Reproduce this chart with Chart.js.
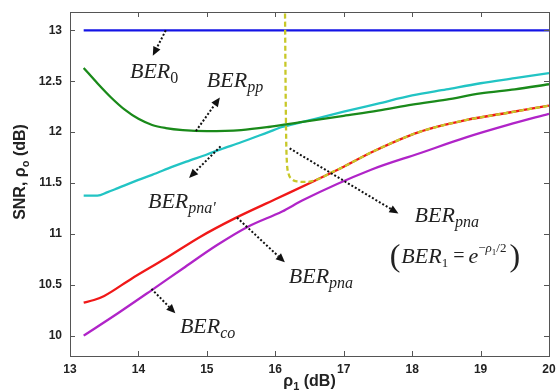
<!DOCTYPE html>
<html lang="en">
<head>
    <meta charset="UTF-8">
    <title>SNR vs rho1</title>
    <script src="https://cdn.jsdelivr.net/npm/chart.js"></script>
    <style>
        body { margin: 0; background: #fff; }
    </style>
</head>
<body>
    <canvas id="snrChart" width="556" height="390"></canvas>

    <script>
        // axis ticks
        const xTicks = [13, 14, 15, 16, 17, 18, 19, 20];
        const yTicks = [10, 10.5, 11, 11.5, 12, 12.5, 13];

        // BER_0
        const ber0X = [13.2, 20];
        const ber0Y = [13.0, 13.0];

        // BER_pp
        const berPpX = [13.2, 13.4, 13.6, 13.8, 14.0, 14.2, 14.4, 14.65, 15.0, 15.5, 15.9, 16.4, 17.0, 17.5, 18.0, 18.5, 19.0, 19.5, 20];
        const berPpY = [12.63, 12.48, 12.34, 12.22, 12.13, 12.07, 12.04, 12.02, 12.01, 12.02, 12.05, 12.10, 12.16, 12.21, 12.27, 12.32, 12.38, 12.42, 12.47];

        // BER_pna'
        const berPnaPX = [13.2, 13.4, 13.55, 13.7, 14.0, 14.2, 14.5, 14.7, 15.0, 15.2, 15.5, 15.9, 16.1, 16.4, 17.0, 17.5, 18.0, 18.5, 19.0, 19.5, 20];
        const berPnaPY = [11.375, 11.375, 11.41, 11.45, 11.53, 11.58, 11.66, 11.71, 11.78, 11.83, 11.90, 12.00, 12.05, 12.10, 12.20, 12.28, 12.36, 12.42, 12.48, 12.53, 12.58];

        // BER_pna (red)
        const berPnaX = [13.2, 13.35, 13.5, 13.9, 14.4, 14.9, 15.4, 16.0, 16.6, 17.0, 17.4, 18.1, 18.8, 19.4, 20];
        const berPnaY = [10.325, 10.35, 10.39, 10.56, 10.76, 10.97, 11.15, 11.34, 11.53, 11.66, 11.80, 12.00, 12.12, 12.19, 12.26];

        // BER_pna with BER_1 = e^(-rho1/2) (yellow dashed)
        const berPna1X = [16.14, 16.15, 16.16, 16.17, 16.19, 16.24, 16.32, 16.45, 16.6, 16.84, 17.0, 17.4, 18.1, 18.8, 19.4, 20];
        const berPna1Y = [13.4, 12.5, 11.9, 11.7, 11.6, 11.54, 11.515, 11.51, 11.53, 11.61, 11.66, 11.80, 12.00, 12.12, 12.19, 12.26];

        // BER_co
        const berCoX = [13.2, 13.7, 14.2, 14.65, 15.15, 15.6, 16.1, 16.4, 17.4, 18.1, 18.8, 19.4, 20];
        const berCoY = [10.0, 10.22, 10.45, 10.66, 10.89, 11.07, 11.22, 11.33, 11.63, 11.79, 11.95, 12.07, 12.18];

        // annotation arrows: [fromX, fromY, toX, toY] in data units
        const arrows = [
            [14.40, 13.0, 14.21, 12.75],
            [14.84, 12.01, 15.19, 12.34],
            [15.20, 11.86, 14.74, 11.55],
            [16.21, 11.84, 17.80, 11.20],
            [15.44, 11.16, 16.14, 10.72],
            [14.19, 10.46, 14.54, 10.22]
        ];

        // curve labels: [x, y, sub]
        const labels = [
            [13.876, 12.53, '0'],
            [15.00, 12.443, 'pp'],
            [14.139, 11.254, "pna'"],
            [18.036, 11.117, 'pna'],
            [16.197, 10.518, 'pna'],
            [14.606, 10.027, 'co']
        ];
        const formulaPos = [17.672, 10.714];

        const toPoints = (xs, ys) => xs.map((v, i) => ({ x: v, y: ys[i] }));

        const serif = '"Liberation Serif", "Times New Roman", serif';
        const sans = '"Liberation Sans", Arial, sans-serif';

        function drawArrow(ctx, x1, y1, x2, y2) {
            const ang = Math.atan2(y2 - y1, x2 - x1);
            const hl = 9, hw = 4;
            const bx = x2 - hl * Math.cos(ang), by = y2 - hl * Math.sin(ang);
            ctx.strokeStyle = '#111';
            ctx.fillStyle = '#111';
            ctx.lineWidth = 2;
            ctx.setLineDash([2, 2]);
            ctx.beginPath();
            ctx.moveTo(x1, y1);
            ctx.lineTo(bx, by);
            ctx.stroke();
            ctx.setLineDash([]);
            ctx.beginPath();
            ctx.moveTo(x2, y2);
            ctx.lineTo(bx + hw * Math.sin(ang), by - hw * Math.cos(ang));
            ctx.lineTo(bx - hw * Math.sin(ang), by + hw * Math.cos(ang));
            ctx.closePath();
            ctx.fill();
        }

        function drawBer(ctx, px, py, sub) {
            ctx.fillStyle = '#222';
            ctx.font = 'italic 22px ' + serif;
            ctx.fillText('BER', px, py);
            const w = ctx.measureText('BER').width;
            ctx.font = (/^\d$/.test(sub) ? '' : 'italic ') + '16px ' + serif;
            ctx.fillText(sub, px + w, py + 5);
        }

        function drawFormula(ctx, px, py) {
            let cx = px;
            ctx.fillStyle = '#222';
            const put = (txt, font, dy) => {
                ctx.font = font;
                ctx.fillText(txt, cx, py + dy);
                cx += ctx.measureText(txt).width;
            };
            put('(', '32px ' + serif, 3);
            cx += 1;
            put('BER', 'italic 22px ' + serif, 0);
            put('1', '13px ' + serif, 4);
            cx += 5;
            put('=', '20px ' + serif, -1);
            cx += 4;
            put('e', 'italic 22px ' + serif, 0);
            put('\u2212', '13px ' + serif, -11);
            put('\u03c1', 'italic 13px ' + serif, -11);
            put('1', '9px ' + serif, -8);
            put('/2', '13px ' + serif, -11);
            cx += 3;
            put(')', '32px ' + serif, 3);
        }

        const decor = {
            id: 'decor',
            afterDraw(chart) {
                const { ctx, chartArea: a, scales: { x, y } } = chart;
                ctx.save();

                // frame with inward ticks on all four sides
                ctx.strokeStyle = '#555';
                ctx.lineWidth = 1;
                ctx.strokeRect(a.left + 0.5, a.top + 0.5, a.right - a.left, a.bottom - a.top);
                ctx.beginPath();
                xTicks.forEach(v => {
                    const px = Math.round(x.getPixelForValue(v)) + 0.5;
                    ctx.moveTo(px, a.bottom); ctx.lineTo(px, a.bottom - 5);
                    ctx.moveTo(px, a.top); ctx.lineTo(px, a.top + 5);
                });
                yTicks.forEach(v => {
                    const py = Math.round(y.getPixelForValue(v)) + 0.5;
                    ctx.moveTo(a.left, py); ctx.lineTo(a.left + 5, py);
                    ctx.moveTo(a.right, py); ctx.lineTo(a.right - 5, py);
                });
                ctx.stroke();

                // arrows and labels
                arrows.forEach(r => drawArrow(ctx,
                    x.getPixelForValue(r[0]), y.getPixelForValue(r[1]),
                    x.getPixelForValue(r[2]), y.getPixelForValue(r[3])));
                labels.forEach(l => drawBer(ctx, x.getPixelForValue(l[0]), y.getPixelForValue(l[1]), l[2]));
                drawFormula(ctx, x.getPixelForValue(formulaPos[0]), y.getPixelForValue(formulaPos[1]));

                // axis titles
                ctx.fillStyle = '#222';
                ctx.textAlign = 'left';
                const xt = [['\u03c1', 'bold 16px ' + sans, 0], ['1', 'bold 11px ' + sans, 4], [' (dB)', 'bold 16px ' + sans, 0]];
                let tw = 0;
                xt.forEach(p => { ctx.font = p[1]; tw += ctx.measureText(p[0]).width; });
                let cx = (a.left + a.right) / 2 - tw / 2;
                xt.forEach(p => { ctx.font = p[1]; ctx.fillText(p[0], cx, 386 + p[2]); cx += ctx.measureText(p[0]).width; });

                ctx.translate(25, 172);
                ctx.rotate(-Math.PI / 2);
                const yt = [['SNR, \u03c1', 'bold 16px ' + sans, 0], ['o', 'bold 11px ' + sans, 4], [' (dB)', 'bold 16px ' + sans, 0]];
                tw = 0;
                yt.forEach(p => { ctx.font = p[1]; tw += ctx.measureText(p[0]).width; });
                cx = -tw / 2;
                yt.forEach(p => { ctx.font = p[1]; ctx.fillText(p[0], cx, p[2]); cx += ctx.measureText(p[0]).width; });

                ctx.restore();
            }
        };

        const line = (data, color, order, extra) => Object.assign({
            data: data,
            borderColor: color,
            borderWidth: 2.3,
            pointRadius: 0,
            fill: false,
            cubicInterpolationMode: 'monotone',
            order: order
        }, extra || {});

        const ctx = document.getElementById('snrChart').getContext('2d');
        new Chart(ctx, {
            type: 'line',
            data: {
                datasets: [
                    line(toPoints(ber0X, ber0Y), '#1414e6', 5),
                    line(toPoints(berPpX, berPpY), '#1a8a1a', 5),
                    line(toPoints(berPnaPX, berPnaPY), '#22c4c4', 5),
                    line(toPoints(berCoX, berCoY), '#b024c8', 5),
                    line(toPoints(berPnaX, berPnaY), '#f01818', 4),
                    line(toPoints(berPna1X, berPna1Y), '#c8c828', 1, { borderDash: [5, 3] })
                ]
            },
            options: {
                responsive: false,
                animation: false,
                layout: { padding: { top: 12, right: 7, left: 0, bottom: 0 } },
                plugins: {
                    legend: { display: false },
                    tooltip: { enabled: false }
                },
                scales: {
                    x: {
                        type: 'linear',
                        min: 13,
                        max: 20,
                        afterFit: s => { s.height = 34; s.paddingLeft = 0; s.paddingRight = 0; },
                        afterBuildTicks: s => { s.ticks = xTicks.map(v => ({ value: v })); },
                        grid: { display: false, drawTicks: false },
                        border: { display: false },
                        ticks: {
                            padding: 6,
                            color: '#222',
                            font: { family: sans, size: 12, weight: 'bold' },
                            callback: v => String(v)
                        }
                    },
                    y: {
                        type: 'linear',
                        min: 9.8,
                        max: 13.18,
                        afterFit: s => { s.width = 70; s.paddingTop = 0; s.paddingBottom = 0; },
                        afterBuildTicks: s => { s.ticks = yTicks.map(v => ({ value: v })); },
                        grid: { display: false, drawTicks: false },
                        border: { display: false },
                        ticks: {
                            padding: 8,
                            color: '#222',
                            font: { family: sans, size: 12, weight: 'bold' },
                            callback: v => String(v)
                        }
                    }
                }
            },
            plugins: [decor]
        });
    </script>
</body>
</html>
